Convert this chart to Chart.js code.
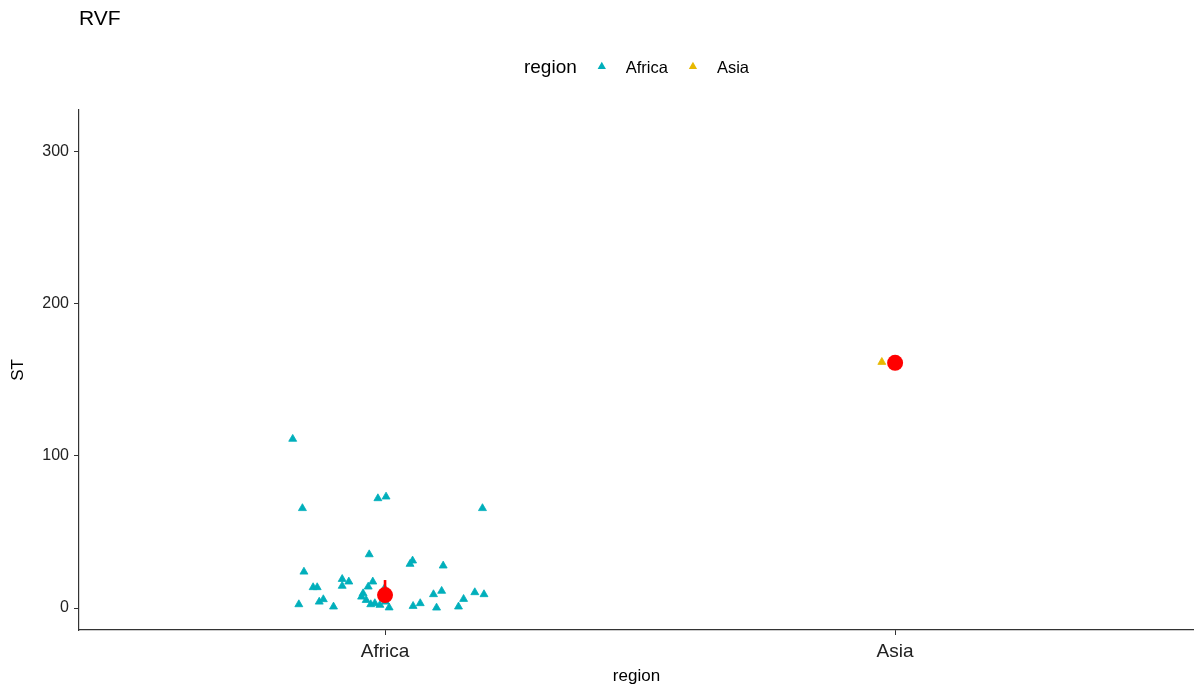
<!DOCTYPE html>
<html>
<head>
<meta charset="utf-8">
<title>RVF</title>
<script src="https://cdn.jsdelivr.net/npm/chart.js@4/dist/chart.umd.min.js"></script>
<style>
  html, body { margin: 0; padding: 0; background: #ffffff; }
  #wrap { width: 1194px; height: 691px; position: relative; }
</style>
</head>
<body>
<div id="wrap"><canvas id="chart" width="1194" height="691"></canvas></div>
<script>
// Categories on the x axis (positions 1, 2, ...)
const regions = ['Africa', 'Asia'];

// ST per isolate, Africa, with the horizontal jitter applied to each point
const africaST = [111, 65.5, 72, 73.1, 65.5, 35.2, 31.1, 28.9, 27.8, 23.8,
                  19, 17.3, 14.5, 13.6, 13.6, 17.3, 14, 13, 9.6, 7.4,
                  5.2, 2.4, 3.1, 2, 4.1, 0.3, 1.3, 3.1, 9, 11.2,
                  0.2, 5.9, 0.9, 10.3, 9, 2.4, 4.1, 5.7, 0.9];
const africaJitter = [-0.181, -0.162, -0.014, 0.002, 0.191, -0.031, 0.054, 0.049, 0.114, -0.159,
                      -0.084, -0.071, -0.084, -0.141, -0.133, -0.024, -0.033, -0.001, -0.043, -0.046,
                      -0.037, -0.028, -0.020, -0.010, 0.001, 0.008, 0.055, 0.069, 0.095, 0.111,
                      0.101, 0.154, 0.144, 0.176, 0.194, -0.169, -0.129, -0.121, -0.101];

// ST, Asia
const asiaST = [161.5];
const asiaJitter = [-0.026];

// Group summaries (point + upper bar)
const summaryCenter = [8.5, 161];
const summaryUpper = [18.4, 161];

// Y axis ticks
const yTicks = [0, 100, 200, 300];

const COLORS = { Africa: '#00AFBB', Asia: '#E7B800', summary: '#FF0000' };
const FONT = "'Liberation Sans', Arial, sans-serif";

const toPoints = (vals, jit, pos) => vals.map((v, i) => ({ x: pos + jit[i], y: v }));

const datasets = [
  {
    label: 'Africa', type: 'scatter',
    data: toPoints(africaST, africaJitter, 1),
    pointStyle: 'triangle', pointRadius: 4.6, pointBorderWidth: 0.8,
    backgroundColor: COLORS.Africa, borderColor: COLORS.Africa, order: 3
  },
  {
    label: 'Asia', type: 'scatter',
    data: toPoints(asiaST, asiaJitter, 2),
    pointStyle: 'triangle', pointRadius: 4.6, pointBorderWidth: 0.8,
    backgroundColor: COLORS.Asia, borderColor: COLORS.Asia, order: 3
  }
];

// Summary bars: one vertical segment per group
regions.forEach((r, i) => {
  datasets.push({
    label: 'bar-' + r, type: 'line', summary: true,
    data: [{ x: i + 1, y: summaryCenter[i] }, { x: i + 1, y: summaryUpper[i] }],
    borderColor: COLORS.summary, borderWidth: 2.6, pointRadius: 0, fill: false, order: 2
  });
});
// Summary points
datasets.push({
  label: 'summary', type: 'scatter', summary: true,
  data: summaryCenter.map((v, i) => ({ x: i + 1, y: v })),
  pointStyle: 'circle', pointRadius: 8, pointBorderWidth: 0,
  backgroundColor: COLORS.summary, borderColor: COLORS.summary, order: 1
});

// Title and the horizontal "region" legend above the panel
const decorations = {
  id: 'decorations',
  afterDraw(chart) {
    const ctx = chart.ctx;
    const area = chart.chartArea;
    ctx.save();
    ctx.fillStyle = '#000';
    ctx.textBaseline = 'middle';
    ctx.textAlign = 'left';
    ctx.font = '21px ' + FONT;
    ctx.fillText('RVF', 79, 19);

    const y = 68;
    const titleFont = '19px ' + FONT, itemFont = '16.5px ' + FONT;
    ctx.font = titleFont;
    const titleW = ctx.measureText('region').width;
    ctx.font = itemFont;
    const items = regions.map(r => ({ r, w: ctx.measureText(r).width }));
    const gapTitle = 25, gapKey = 24;
    let total = titleW;
    items.forEach(it => { total += gapTitle + gapKey + it.w; });
    let x = (area.left + area.right) / 2 - total / 2;
    ctx.font = titleFont;
    ctx.fillText('region', x, y);
    x += titleW;
    items.forEach(it => {
      const cx = x + gapTitle;
      const r = 4.8;
      ctx.fillStyle = COLORS[it.r];
      ctx.beginPath();
      ctx.moveTo(cx, y - 1.5 - r);
      ctx.lineTo(cx + r * 0.866, y - 1.5 + r * 0.5);
      ctx.lineTo(cx - r * 0.866, y - 1.5 + r * 0.5);
      ctx.closePath();
      ctx.fill();
      ctx.fillStyle = '#000';
      ctx.font = itemFont;
      ctx.fillText(it.r, cx + gapKey, y);
      x = cx + gapKey + it.w;
    });
    ctx.restore();
  }
};

new Chart(document.getElementById('chart'), {
  data: { datasets },
  options: {
    responsive: false,
    animation: false,
    layout: { autoPadding: false, padding: { top: 110, right: 0, left: 0, bottom: 0 } },
    plugins: {
      legend: { display: false },
      tooltip: { enabled: false },
      title: { display: false }
    },
    scales: {
      x: {
        type: 'linear', min: 0.4, max: 2.586,
        afterBuildTicks: s => { s.ticks = regions.map((r, i) => ({ value: i + 1 })); },
        afterFit: s => { s.height = 61; },
        ticks: {
          callback: v => regions[v - 1] ?? '',
          color: '#222', font: { family: FONT, size: 19 }, padding: 5, maxRotation: 0
        },
        grid: { display: true, drawOnChartArea: false, tickLength: 5, color: '#333', lineWidth: 1 },
        border: { display: true, color: '#333', width: 1.2 },
        title: { display: true, text: 'region', color: '#000', font: { family: FONT, size: 17 }, padding: { top: 0, bottom: 4 } }
      },
      y: {
        type: 'linear', min: -14.4, max: 327,
        afterBuildTicks: s => { s.ticks = yTicks.map(v => ({ value: v })); },
        afterFit: s => { s.width = 79; },
        ticks: { color: '#222', font: { family: FONT, size: 16 }, padding: 5 },
        grid: { display: true, drawOnChartArea: false, tickLength: 5, color: '#333', lineWidth: 1 },
        border: { display: true, color: '#333', width: 1.2 },
        title: { display: true, text: 'ST', color: '#000', font: { family: FONT, size: 17 }, padding: { top: 8, bottom: 0 } }
      }
    }
  },
  plugins: [decorations]
});
</script>
</body>
</html>
